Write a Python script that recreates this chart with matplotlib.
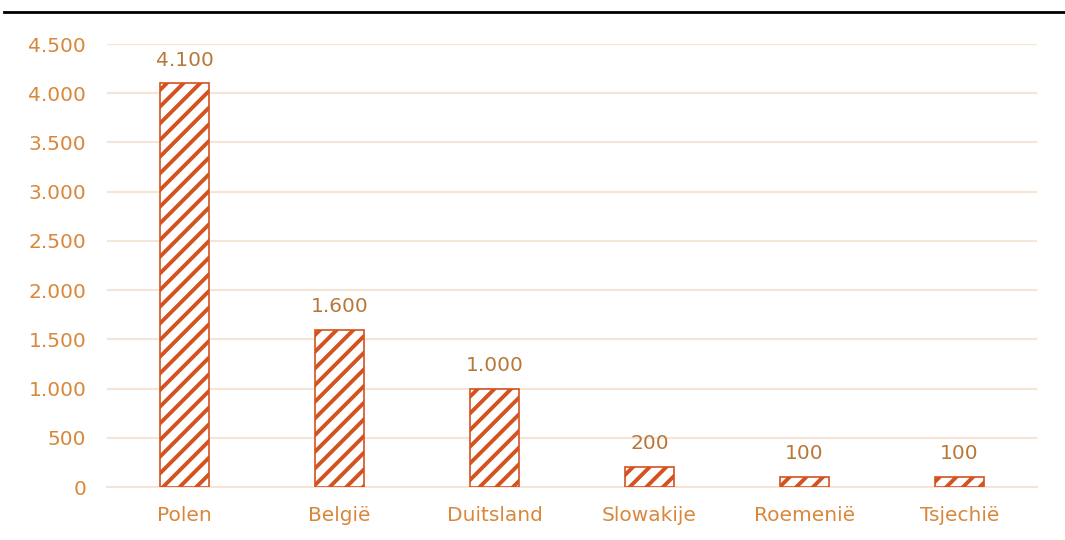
import matplotlib
matplotlib.use("Agg")
import matplotlib.pyplot as plt
from matplotlib.lines import Line2D

landen = ["Polen", "België", "Duitsland", "Slowakije", "Roemenië", "Tsjechië"]
aantallen = [4100, 1600, 1000, 200, 100, 100]
yticks = [0, 500, 1000, 1500, 2000, 2500, 3000, 3500, 4000, 4500]

tick_kleur = "#D9873A"
label_kleur = "#B8783A"
bar_kleur = "#D4521F"
grid_kleur = "#F6E4D4"


def punt(v):
    return f"{v:,.0f}".replace(",", ".")


plt.rcParams["font.family"] = ["DejaVu Sans"]
plt.rcParams["hatch.linewidth"] = 2.8
plt.rcParams["hatch.color"] = bar_kleur

fig = plt.figure(figsize=(10.65, 5.4), dpi=100)
ax = fig.add_axes([0.1005, 0.0981, 0.8732, 0.8204])

x = list(range(len(landen)))
ax.bar(x, aantallen, width=0.32, facecolor="white", edgecolor=bar_kleur,
       linewidth=1.2, hatch="//", zorder=3)

for xi, v in zip(x, aantallen):
    ax.annotate(punt(v), (xi, v), xytext=(0, 10), textcoords="offset points",
                ha="center", va="bottom", color=label_kleur, fontsize=14.5)

ax.set_xlim(-0.5, len(landen) - 0.5)
ax.set_ylim(0, 4500)
ax.set_yticks(yticks)
ax.set_yticklabels([punt(v) for v in yticks])
ax.set_xticks(x)
ax.set_xticklabels(landen)
ax.tick_params(axis="both", length=0, colors=tick_kleur, labelsize=14.5)
ax.tick_params(axis="x", pad=14)
ax.tick_params(axis="y", pad=15)
ax.grid(axis="y", color=grid_kleur, linewidth=1.5, zorder=0)
for s in ["top", "right", "left"]:
    ax.spines[s].set_visible(False)
ax.spines["bottom"].set_color(grid_kleur)
ax.spines["bottom"].set_linewidth(1.5)

fig.add_artist(Line2D([0.004, 1.0], [0.978, 0.978], transform=fig.transFigure,
                      color="black", linewidth=2))

fig.savefig("out.png", dpi=100)
